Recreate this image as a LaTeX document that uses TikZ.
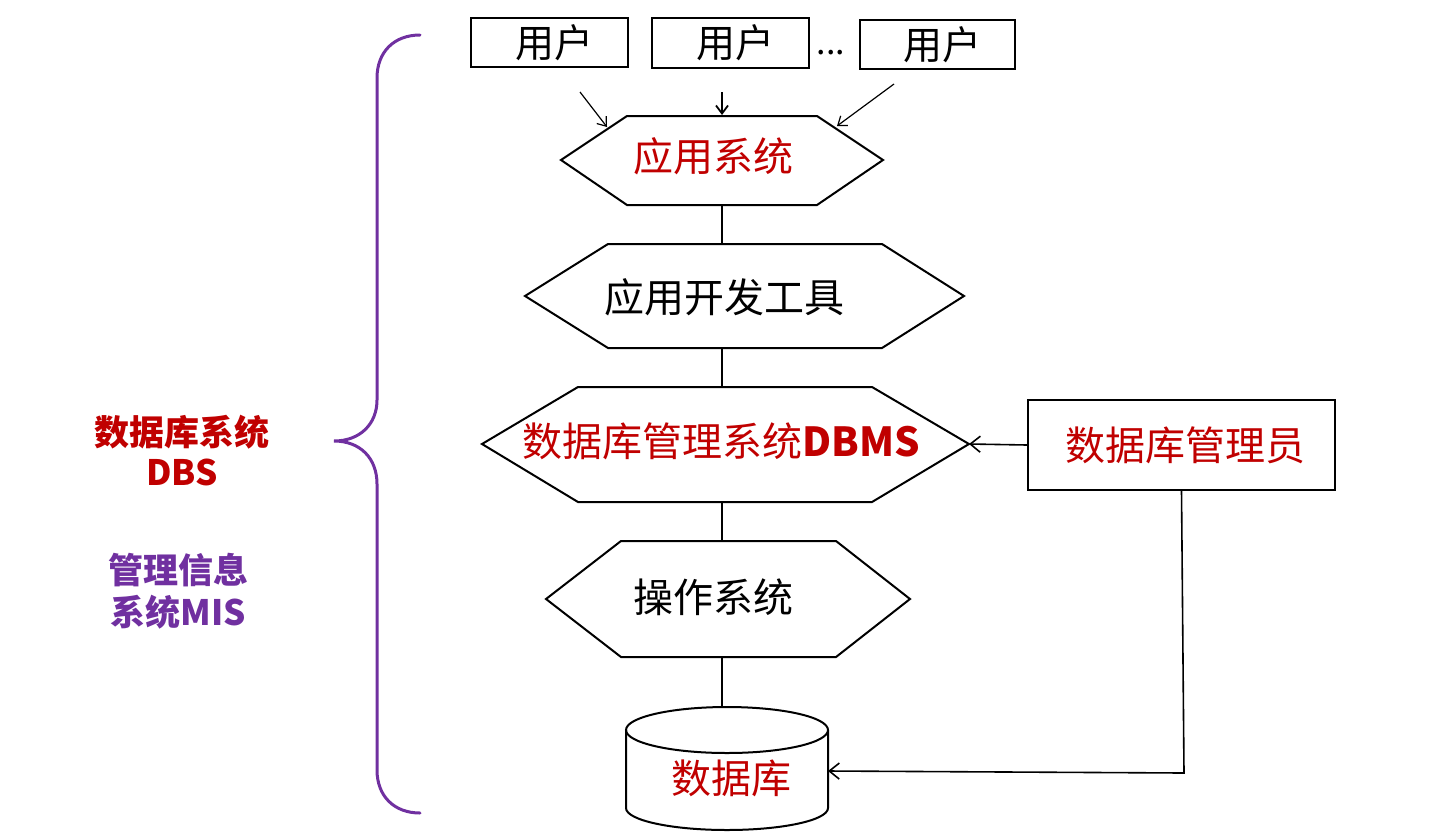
\documentclass[tikz,border=0pt]{standalone}
\usepackage{fontspec}
\setmainfont{Noto Sans CJK SC}
\usetikzlibrary{arrows.meta}
\definecolor{dred}{RGB}{192,0,0}
\definecolor{dpurple}{RGB}{112,48,160}
\begin{document}
\begin{tikzpicture}[x=0.5pt,y=-0.5pt,
  shapeline/.style={draw=black,line width=1pt,line join=miter},
  conn/.style={draw=black,line width=1pt},
  thinarr/.style={draw=black,line width=0.6pt,-{Straight Barb[length=4pt,width=6pt]}},
  arr/.style={draw=black,line width=0.8pt,-{Straight Barb[length=5pt,width=8pt]}},
  txt/.style={inner sep=0pt,font=\fontsize{20pt}{24pt}\selectfont},
  redtxt/.style={txt,text=dred},
  sidetxt/.style={inner sep=0pt,font=\fontsize{17.5pt}{21pt}\selectfont\bfseries},
  userbox/.style={draw=black,line width=1pt,inner sep=0pt,font=\fontsize{19.5pt}{23pt}\selectfont}
]
\useasboundingbox (0,0) rectangle (1440,831);

% users
\node[userbox,minimum width=78.5pt,minimum height=24.5pt] (u1) at (549.5,42.5) {\hspace{5pt}用户};
\node[userbox,minimum width=78.5pt,minimum height=25pt] (u2) at (730.5,43) {\hspace{5pt}用户};
\node[userbox,minimum width=77.5pt,minimum height=24.5pt] (u3) at (937.5,44.5) {\hspace{5pt}用户};
\node[inner sep=0pt,font=\fontsize{17pt}{20pt}\selectfont] (dots) at (831,53) {...};

% hexagon 1
\path (561,160) coordinate (h1l) (627,116) coordinate (h1tl) (817,116) coordinate (h1tr)
      (883,160) coordinate (h1r) (817,205) coordinate (h1br) (627,205) coordinate (h1bl)
      (722,116) coordinate (h1t) (722,205) coordinate (h1b);
\draw[shapeline] (h1l) -- (h1tl) -- (h1tr) -- (h1r) -- (h1br) -- (h1bl) -- cycle;
\node[redtxt] (t1) at (713,156) {应用系统};

% hexagon 2
\path (525,296) coordinate (h2l) (608,244) coordinate (h2tl) (882,244) coordinate (h2tr)
      (964,296) coordinate (h2r) (882,348) coordinate (h2br) (608,348) coordinate (h2bl)
      (722,244) coordinate (h2t) (722,348) coordinate (h2b);
\draw[shapeline] (h2l) -- (h2tl) -- (h2tr) -- (h2r) -- (h2br) -- (h2bl) -- cycle;
\node[txt] (t2) at (724,297) {应用开发工具};

% hexagon 3
\path (482,444) coordinate (h3l) (578,387) coordinate (h3tl) (872,387) coordinate (h3tr)
      (969,444) coordinate (h3r) (872,502) coordinate (h3br) (578,502) coordinate (h3bl)
      (722,387) coordinate (h3t) (722,502) coordinate (h3b);
\draw[shapeline] (h3l) -- (h3tl) -- (h3tr) -- (h3r) -- (h3br) -- (h3bl) -- cycle;
\node[redtxt] (t3) at (721,441) {数据库管理系统\textbf{DBMS}};

% hexagon 4
\path (546,599) coordinate (h4l) (621,541) coordinate (h4tl) (836,541) coordinate (h4tr)
      (910,599) coordinate (h4r) (836,657) coordinate (h4br) (621,657) coordinate (h4bl)
      (722,541) coordinate (h4t) (722,657) coordinate (h4b);
\draw[shapeline] (h4l) -- (h4tl) -- (h4tr) -- (h4r) -- (h4br) -- (h4bl) -- cycle;
\node[txt] (t4) at (713,597) {操作系统};

% database cylinder
\path (722,707) coordinate (cyt) (828,771) coordinate (cyr);
\draw[shapeline] (727,730) ellipse [x radius=101, y radius=23];
\draw[shapeline] (626,730) -- (626,808) arc[start angle=180,end angle=0,x radius=101,y radius=22] -- (828,730);
\node[redtxt] (t5) at (731,778) {数据库};

% DBA
\node[draw=black,line width=1pt,minimum width=153.5pt,minimum height=45pt,inner sep=0pt,
      text=dred,font=\fontsize{20pt}{24pt}\selectfont] (dba) at (1181.5,445) {\hspace{4pt}数据库管理员};
\path (1184,773) coordinate (corner);

% connectors
\draw[conn] (h1b) -- (h2t);
\draw[conn] (h2b) -- (h3t);
\draw[conn] (h3b) -- (h4t);
\draw[conn] (h4b) -- (cyt);
\draw[arr] (dba.west) -- (h3r);
\draw[arr] (dba.south) -- (corner) -- (cyr);

% user arrows
\path (580,92) coordinate (a1s) (607,127) coordinate (a1e)
      (722,92) coordinate (a2s) (722,115) coordinate (a2e)
      (894,84) coordinate (a3s) (837,126) coordinate (a3e);
\draw[thinarr] (a1s) -- (a1e);
\draw[thinarr,line width=0.9pt] (a2s) -- (a2e);
\draw[thinarr] (a3s) -- (a3e);

% brace
\draw[dpurple,line width=1.5pt,line cap=round]
  (420,35) .. controls (394,35) and (377,52) .. (377,78) -- (377,400)
  .. controls (377,424) and (360,441) .. (334,441)
  .. controls (360,441) and (377,458) .. (377,484) -- (377,770)
  .. controls (377,796) and (394,813) .. (420,813);

% side labels
\node[sidetxt,text=dred] (s1) at (182,432) {数据库系统};
\node[sidetxt,text=dred] (s2) at (182,472) {DBS};
\node[sidetxt,text=dpurple] (s3) at (178,570) {管理信息};
\node[sidetxt,text=dpurple] (s4) at (178,612) {系统MIS};
\end{tikzpicture}
\end{document}
